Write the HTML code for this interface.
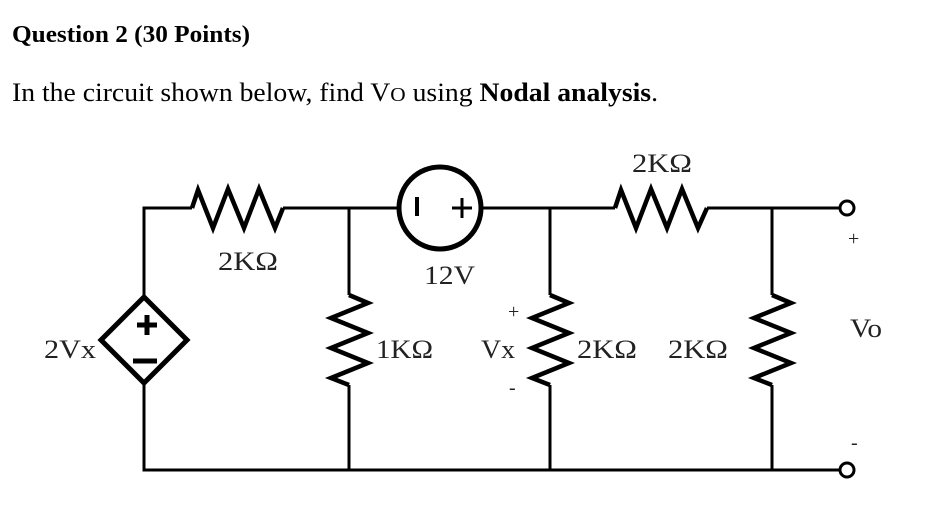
<!DOCTYPE html>
<html><head><style>body{margin:0;background:#fff}svg{display:block}</style></head><body>
<svg width="952" height="532" viewBox="0 0 952 532" xmlns="http://www.w3.org/2000/svg" font-family="Liberation Serif, serif">
<text x="12" y="42" font-size="24" font-weight="bold" textLength="238" lengthAdjust="spacingAndGlyphs">Question 2 (30 Points)</text>
<text x="12" y="101" font-size="26" textLength="646" lengthAdjust="spacingAndGlyphs">In the circuit shown below, find V<tspan font-size="20">O</tspan> using <tspan font-weight="bold">Nodal analysis</tspan>.</text>
<g stroke="#000" stroke-width="3" fill="none" stroke-linejoin="miter">
<polyline points="144,297 144,208 192,208"/>
<line x1="283" y1="208" x2="398" y2="208"/>
<line x1="482" y1="208" x2="615" y2="208"/>
<line x1="707" y1="208" x2="840" y2="208"/>
<polyline points="144,382 144,470 840,470"/>
<polyline points="349,208 349,295"/><polyline points="349,385 349,470"/>
<polyline points="550,208 550,295"/><polyline points="550,385 550,470"/>
<polyline points="772,208 772,295"/><polyline points="772,385 772,470"/>
</g>
<g stroke="#000" stroke-width="4.5" fill="none" stroke-linejoin="miter">
<polyline points="192,208 198,190 213,228 228,189 244,228 259,189 275,228 283,208"/>
<polyline points="615,208 621,190 636,228 651,189 667,228 682,189 698,228 707,208"/>
<polyline points="349,295 368,303 331,318 368,333 331,348 368,363 331,378 349,385"/>
<polyline points="550,295 569,303 532,318 569,333 532,348 569,363 532,378 550,385"/>
<polyline points="772,295 791,303 754,318 791,333 754,348 791,363 754,378 772,385"/>
<circle cx="440" cy="208" r="41" stroke-width="5"/>
<polygon points="144,297 187,340 144,383 101,340" stroke-width="5"/>
<line x1="417" y1="197" x2="417" y2="216" stroke-width="4"/>
<line x1="452" y1="208" x2="472" y2="208" stroke-width="3"/>
<line x1="462" y1="198" x2="462" y2="218" stroke-width="3"/>
<line x1="137" y1="325" x2="157" y2="325" stroke-width="5"/>
<line x1="147" y1="315" x2="147" y2="335" stroke-width="5"/>
<line x1="133" y1="361" x2="157" y2="361" stroke-width="5"/>
</g>
<g stroke="#000" stroke-width="3" fill="#fff">
<circle cx="847" cy="208" r="7"/><circle cx="847" cy="470" r="7"/>
</g>
<g font-size="26" fill="#222">
<text x="218" y="270" textLength="60" lengthAdjust="spacingAndGlyphs">2KΩ</text>
<text x="424" y="284" textLength="51" lengthAdjust="spacingAndGlyphs">12V</text>
<text x="376" y="358" textLength="57" lengthAdjust="spacingAndGlyphs">1KΩ</text>
<text x="481" y="358" textLength="34" lengthAdjust="spacingAndGlyphs">Vx</text>
<text x="508" y="318" font-size="20">+</text>
<text x="509" y="394" font-size="20">-</text>
<text x="577" y="358" textLength="60" lengthAdjust="spacingAndGlyphs">2KΩ</text>
<text x="668" y="358" textLength="60" lengthAdjust="spacingAndGlyphs">2KΩ</text>
<text x="632" y="172" textLength="60" lengthAdjust="spacingAndGlyphs">2KΩ</text>
<text x="850" y="337" textLength="32" lengthAdjust="spacingAndGlyphs">Vo</text>
<text x="848" y="245" font-size="20">+</text>
<text x="851" y="449" font-size="20">-</text>
<text x="44" y="358" textLength="52" lengthAdjust="spacingAndGlyphs">2Vx</text>
</g>
</svg>
</body></html>
